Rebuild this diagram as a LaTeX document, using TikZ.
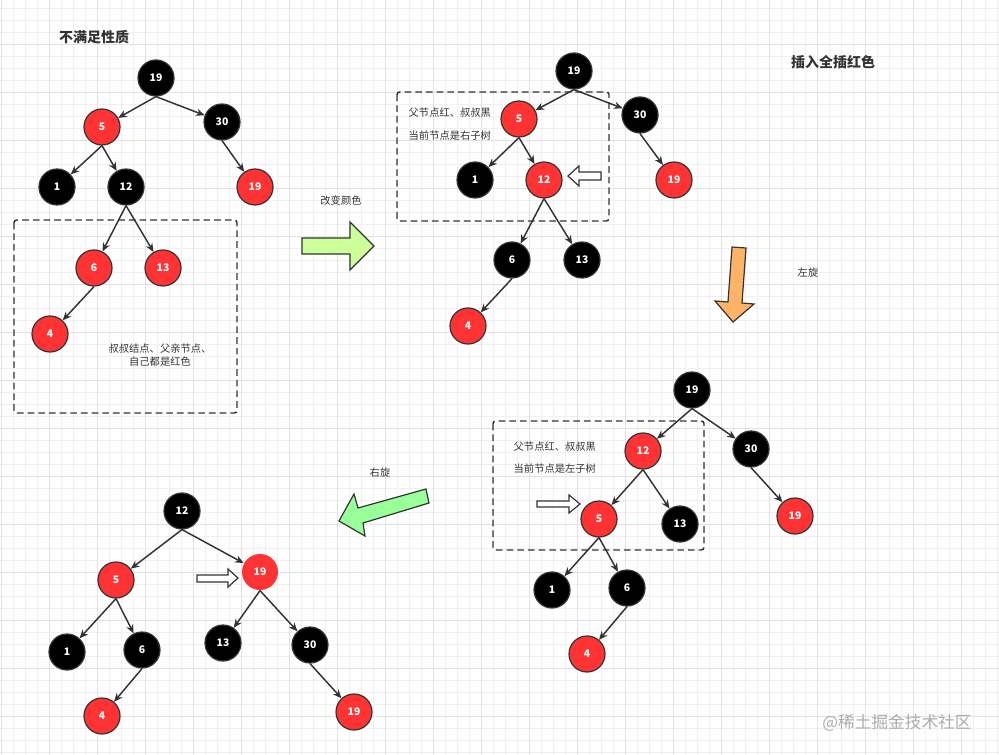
\documentclass[tikz,border=0pt]{standalone}
\usepackage{fontspec}
\setmainfont{Noto Sans CJK SC}
\usepackage{tikz}
\usetikzlibrary{arrows.meta}
\definecolor{nodered}{HTML}{FF3333}
\definecolor{edgegray}{HTML}{333333}
\definecolor{gridminor}{HTML}{F0F0F0}
\definecolor{gridmajor}{HTML}{E2E2E2}
\definecolor{arrowlime}{HTML}{CCFF99}
\definecolor{arrowmint}{HTML}{99FF99}
\definecolor{arroworange}{HTML}{FFB366}

\begin{document}
\begin{tikzpicture}[x=0.75pt,y=-0.75pt,>=Stealth]
\tikzset{
blk/.style={circle,fill=black,draw=edgegray,line width=0.9pt,minimum size=27pt,inner sep=0pt,text=white,font=\bfseries\fontsize{7.8}{9}\selectfont},
rd/.style={blk,fill=nodered},
link/.style={-{Stealth[length=6.5pt,width=5.5pt]},edgegray,line width=1.1pt},
frame/.style={dashed,edgegray,line width=1.1pt,dash pattern=on 5pt off 3pt,rounded corners=2pt},
note/.style={font=\fontsize{7.7}{10}\selectfont,text=edgegray},
heading/.style={font=\bfseries\fontsize{10.5}{12}\selectfont,text=edgegray},
hollow/.style={fill=white,draw=edgegray,line width=0.9pt},
block/.style={draw=edgegray,line width=0.9pt}
}
\useasboundingbox (0,0) rectangle (999,755);
\fill[white](0,0) rectangle (999,755);
% grid
\foreach \x in {1,13,...,997}\draw[gridminor,line width=0.5pt](\x,0)--(\x,755);
\foreach \y in {8,20,...,752}\draw[gridminor,line width=0.5pt](0,\y)--(999,\y);
\foreach \x in {1,49,...,997}\draw[gridmajor,line width=0.6pt](\x,0)--(\x,755);
\foreach \y in {44,92,...,752}\draw[gridmajor,line width=0.6pt](0,\y)--(999,\y);

% tree 1
\node[heading](t1) at (94,37){不满足性质};
\node[blk](a19) at (156,78){19};
\node[rd](a5) at (102,127){5};
\node[blk](a30) at (222,122){30};
\node[blk](a1) at (57,187){1};
\node[blk](a12) at (126,187){12};
\node[rd](a19b) at (255,187){19};
\node[rd](a6) at (94,268){6};
\node[rd](a13) at (163,268){13};
\node[rd](a4) at (50,334){4};
\draw[link](a19.south)--(a5);
\draw[link](a19.south)--(a30);
\draw[link](a5.south)--(a1);
\draw[link](a5.south)--(a12);
\draw[link](a30.south)--(a19b);
\draw[link](a12.south)--(a6);
\draw[link](a12.south)--(a13);
\draw[link](a6.south)--(a4);
\draw[frame](14,220) rectangle (237,413);
\node[note,align=center](n1) at (160,355){叔叔结点、父亲节点、\\自己都是红色};

% change colour
\node[note](l1) at (341,201){改变颜色};
\draw[block,fill=arrowlime](302,238)--(350,238)--(350,222)--(374,246)--(350,270)--(350,254)--(302,254)--cycle;

% tree 2
\node[blk](b19) at (574,71){19};
\node[rd](b5) at (519,119){5};
\node[blk](b30) at (640,115){30};
\node[blk](b1) at (475,180){1};
\node[rd](b12) at (544,180){12};
\node[rd](b19b) at (674,180){19};
\node[blk](b6) at (512,260){6};
\node[blk](b13) at (582,260){13};
\node[rd](b4) at (468,326){4};
\draw[link](b19.south)--(b5);
\draw[link](b19.south)--(b30);
\draw[link](b5.south)--(b1);
\draw[link](b5.south)--(b12);
\draw[link](b30.south)--(b19b);
\draw[link](b12.south)--(b6);
\draw[link](b12.south)--(b13);
\draw[link](b6.south)--(b4);
\draw[frame](397,92) rectangle (609,221);
\node[note,anchor=west](n2) at (404,113){父节点红、叔叔黑};
\node[note,anchor=west](n3) at (404,136){当前节点是右子树};
\draw[hollow](568,176)--(579,166)--(579,172)--(601,172)--(601,180)--(579,180)--(579,186)--cycle;
\node[heading](t2) at (833,62){插入全插红色};

% rotate left
\draw[block,fill=arroworange](732,247)--(746,248)--(742,303)--(754,304)--(733,322)--(715,301)--(728,302)--cycle;
\node[note](l2) at (808,273){左旋};

% tree 3
\node[blk](c19) at (692,390){19};
\node[rd](c12) at (643,451){12};
\node[blk](c30) at (751,449){30};
\node[rd](c5) at (599,519){5};
\node[blk](c13) at (680,524){13};
\node[rd](c19b) at (795,516){19};
\node[blk](c1) at (552,590){1};
\node[blk](c6) at (627,588){6};
\node[rd](c4) at (587,654){4};
\draw[link](c19.south)--(c12);
\draw[link](c19.south)--(c30);
\draw[link](c12.south)--(c5);
\draw[link](c12.south)--(c13);
\draw[link](c30.south)--(c19b);
\draw[link](c5.south)--(c1);
\draw[link](c5.south)--(c6);
\draw[link](c6.south)--(c4);
\draw[frame](493,421) rectangle (704,550);
\node[note,anchor=west](n4) at (509,447){父节点红、叔叔黑};
\node[note,anchor=west](n5) at (509,469){当前节点是左子树};
\draw[hollow](580,504)--(569,495)--(569,501)--(537,501)--(537,507)--(569,507)--(569,513)--cycle;

% rotate right
\node[note](l3) at (380,473){右旋};
\draw[block,fill=arrowmint](426,489)--(429,503)--(363,523)--(365,536)--(339,521)--(354,494)--(358,508)--cycle;

% tree 4
\node[blk](d12) at (182,511){12};
\node[rd](d5) at (116,580){5};
\node[rd,draw=none](d19) at (260,572){19};
\node[blk](d1) at (67,652){1};
\node[blk](d6) at (142,650){6};
\node[blk](d13) at (223,643){13};
\node[blk](d30) at (310,645){30};
\node[rd](d4) at (102,716){4};
\node[rd](d19b) at (354,712){19};
\draw[link](d12.south)--(d5);
\draw[link](d12.south)--(d19);
\draw[link](d5.south)--(d1);
\draw[link](d5.south)--(d6);
\draw[link](d19.south)--(d13);
\draw[link](d19.south)--(d30);
\draw[link](d6.south)--(d4);
\draw[link](d30.south)--(d19b);
\draw[hollow](238,578)--(228,569)--(228,575)--(197,575)--(197,582)--(228,582)--(228,587)--cycle;

\node[font=\fontsize{12.5}{14}\selectfont,text=gray!65](wm) at (897,723){@稀土掘金技术社区};
\end{tikzpicture}
\end{document}
